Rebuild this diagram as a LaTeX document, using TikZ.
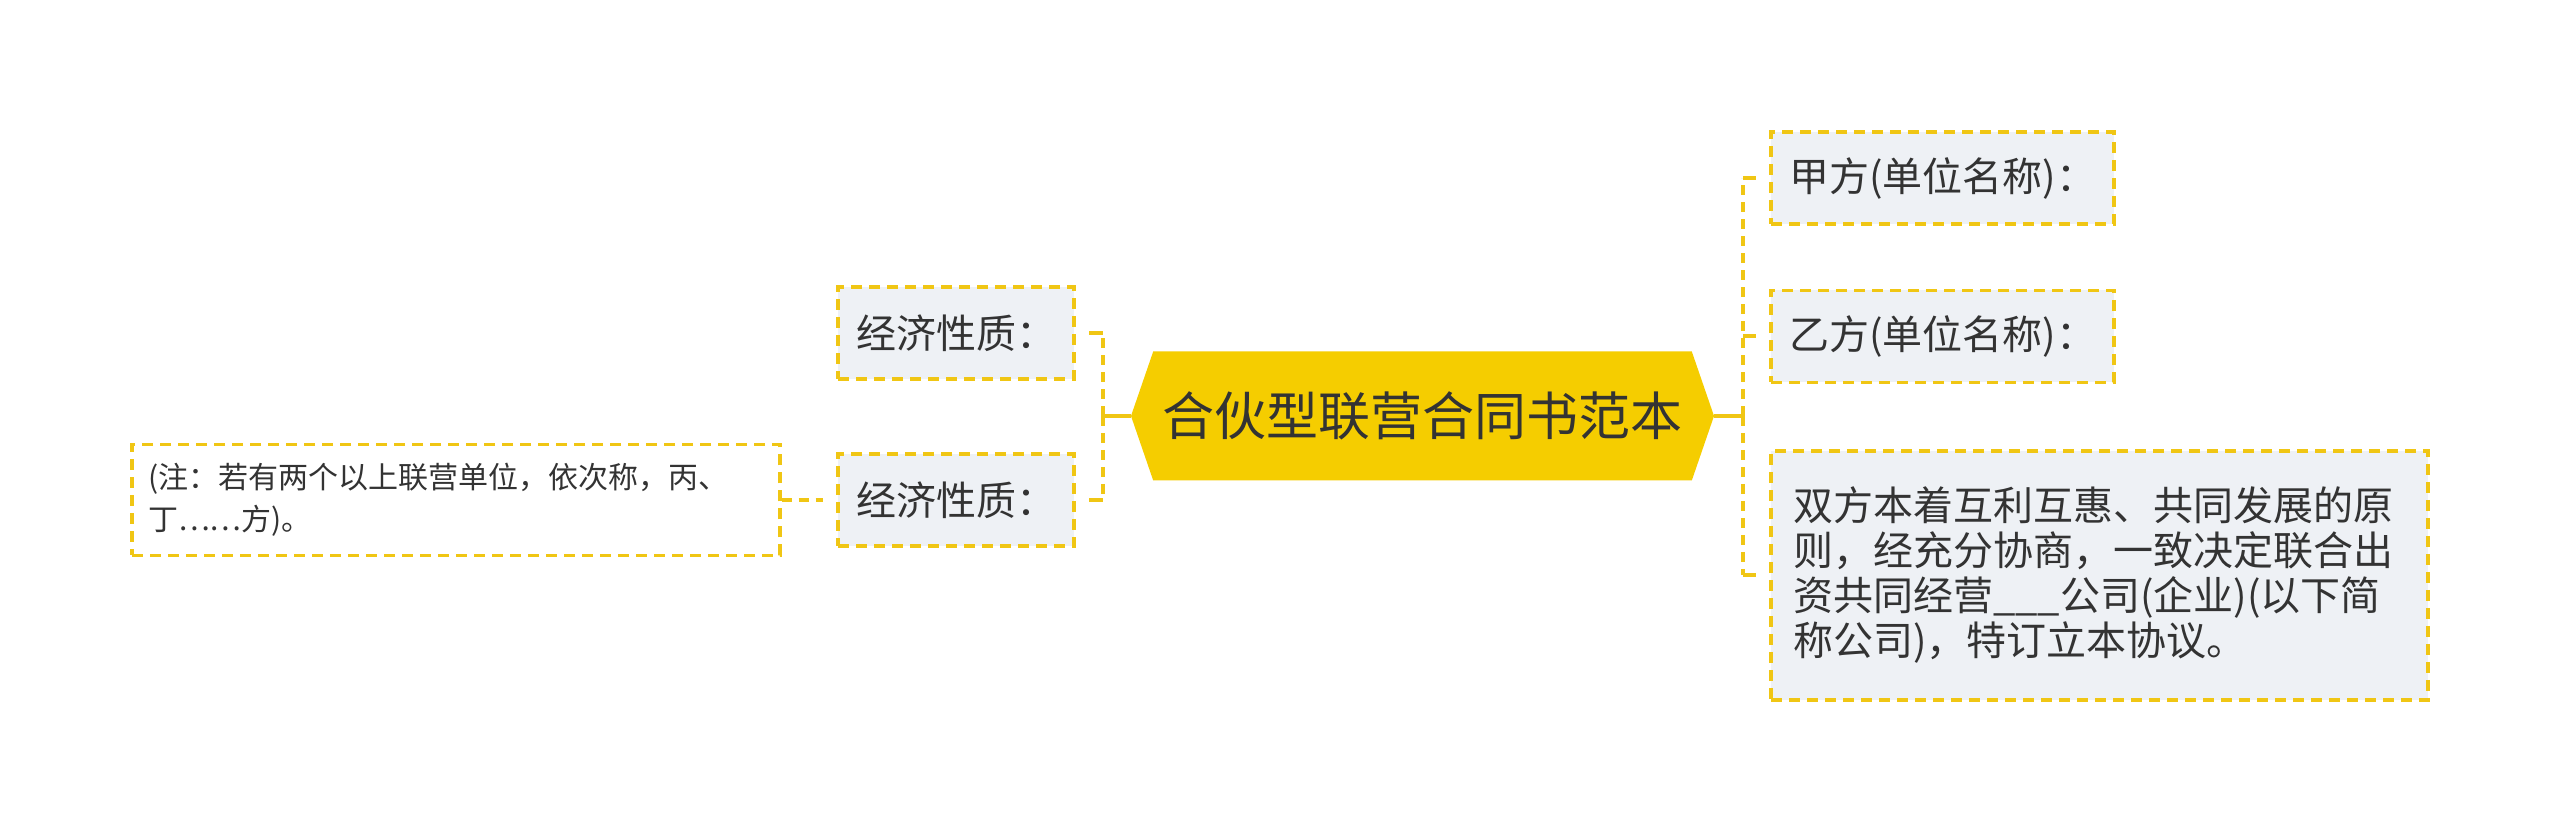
\documentclass[tikz,border=0pt]{standalone}
\usepackage{fontspec}
\setmainfont{Noto Sans CJK SC}
\usetikzlibrary{shapes.symbols}
\definecolor{zhuhuang}{RGB}{245,205,0}
\definecolor{xianhuang}{RGB}{240,198,20}
\definecolor{kuanghui}{RGB}{238,241,245}
\definecolor{wenzi}{RGB}{51,51,51}

\begin{document}
\begin{tikzpicture}[x=0.5pt,y=-0.5pt,
    leaf/.style={draw=xianhuang,fill=kuanghui,line width=1.6pt,dash pattern=on 5.5pt off 3.5pt,
        text=wenzi,font=\fontsize{20pt}{22.5pt}\selectfont,inner sep=0pt},
    link/.style={xianhuang,line width=2pt,dash pattern=on 5pt off 3.5pt},
    stub/.style={xianhuang,line width=2pt,shorten >=6.5pt},
    trunk/.style={xianhuang,line width=2pt}]
    \useasboundingbox (0,0) rectangle (2560,833);
    % central topic
    \node[signal,signal to=west and east,signal pointer angle=142,fill=zhuhuang,
        minimum width=291.5pt,minimum height=64.5pt,inner sep=0pt,text=wenzi,
        font=\fontsize{26pt}{30pt}\selectfont] (root) at (1422.5,416) {合伙型联营合同书范本};
    % left side
    \node[leaf,minimum width=118pt,minimum height=46pt] (xz1) at (956,333) {经济性质：};
    \node[leaf,minimum width=118pt,minimum height=46pt] (xz2) at (956,500) {经济性质：};
    \node[leaf,fill=white,minimum height=55.5pt,inner xsep=8pt,text width=308pt,align=left,
        font=\fontsize{15pt}{21pt}\selectfont] (zhu) at (456,500)
        {(注：若有两个以上联营单位，依次称，丙、\\丁……方)。};
    % right side
    \node[leaf,minimum width=171.5pt,minimum height=46pt] (jia) at (1942.5,178) {甲方(单位名称)：};
    \node[leaf,minimum width=171.5pt,minimum height=46pt] (yi) at (1942.5,336.5) {乙方(单位名称)：};
    \node[leaf,minimum height=124.5pt,inner xsep=11pt,text width=306.5pt,align=left] (shuang) at (2099.5,575.5)
        {双方本着互利互惠、共同发展的原\\则，经充分协商，一致决定联合出\\资共同经营\_\_\_公司(企业)(以下简\\称公司)，特订立本协议。};
    % connectors
    \draw[trunk] (root.west) -- ++(-14pt,0) coordinate (lj);
    \draw[trunk] (root.east) -- ++(14.5pt,0) coordinate (rj);
    \foreach \n in {xz1,xz2} {
        \draw[link] (lj) -- (lj |- \n.east);
        \draw[stub] (lj |- \n.east) -- (\n.east);
    }
    \foreach \n in {jia,yi,shuang} {
        \draw[link] (rj) -- (rj |- \n.west);
        \draw[stub] (rj |- \n.west) -- (\n.west);
    }
    \draw[link,shorten >=6.5pt] (zhu.east) -- (xz2.west);
\end{tikzpicture}
\end{document}
